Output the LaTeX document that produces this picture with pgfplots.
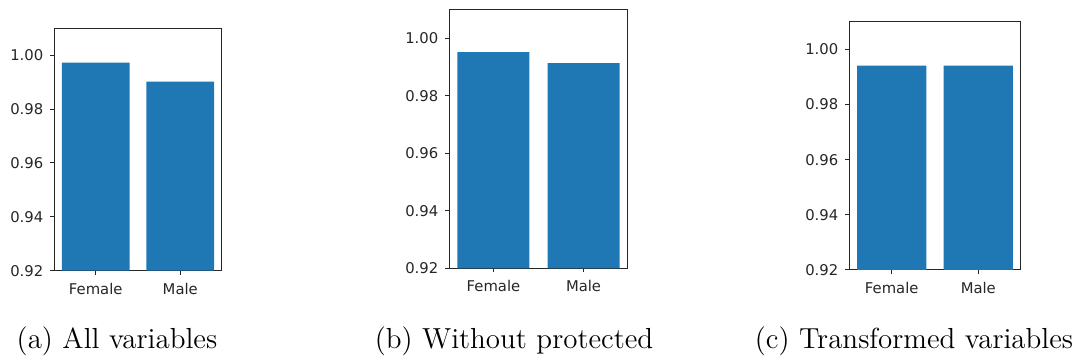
\documentclass[border=0pt]{standalone}
\usepackage{fontspec}
\usepackage{pgfplots}
\pgfplotsset{compat=1.18}
\newfontfamily\dejavu{DejaVu Sans}
\definecolor{mplblue}{HTML}{1F77B4}

\pgfplotsset{
  panel/.style={
    scale only axis,
    anchor=south west,
    xmin=-0.49, xmax=1.49,
    ymin=0.92, ymax=1.01,
    xtick={0,1}, xticklabels={Female,Male},
    ytick={0.92,0.94,0.96,0.98,1.00},
    yticklabel={\pgfmathprintnumber[fixed,fixed zerofill,precision=2]{\tick}},
    /pgf/number format/assume math mode=true,
    tick align=outside,
    tick pos=left,
    major tick length=2pt,
    axis line style={line width=0.5pt, black!85},
    tick style={line width=0.5pt, black!85},
    tick label style={font=\dejavu\fontsize{7.4}{8}\selectfont, text=black!85},
    xticklabel style={yshift=-0.5pt},
  },
  bars/.style={ybar, bar width=0.8, bar shift=0pt, fill=mplblue, draw=none},
}

\begin{document}
\begin{tikzpicture}
\useasboundingbox (0,0) rectangle (540pt,181.5pt);

% (a) all variables
\begin{axis}[panel, at={(27.15pt,46.15pt)}, width=83.7pt, height=121.2pt]
  \addplot[bars] coordinates {(0,0.9973) (1,0.9902)};
\end{axis}

% (b) without protected
\begin{axis}[panel, at={(224.65pt,47.35pt)}, width=89.2pt, height=129.5pt]
  \addplot[bars] coordinates {(0,0.9951) (1,0.9913)};
\end{axis}

% (c) transformed variables
\begin{axis}[panel, at={(424.65pt,46.5pt)}, width=85.7pt, height=124.15pt]
  \addplot[bars] coordinates {(0,0.9941) (1,0.9941)};
\end{axis}

\begin{scope}[every node/.style={anchor=base, inner sep=0pt, font=\fontsize{14.5}{16}\selectfont}]
  \node at (58.5pt,7pt) {(a) All variables};
  \node at (257pt,7pt) {(b) Without protected};
  \node at (457pt,7pt) {(c) Transformed variables};
\end{scope}
\end{tikzpicture}
\end{document}
